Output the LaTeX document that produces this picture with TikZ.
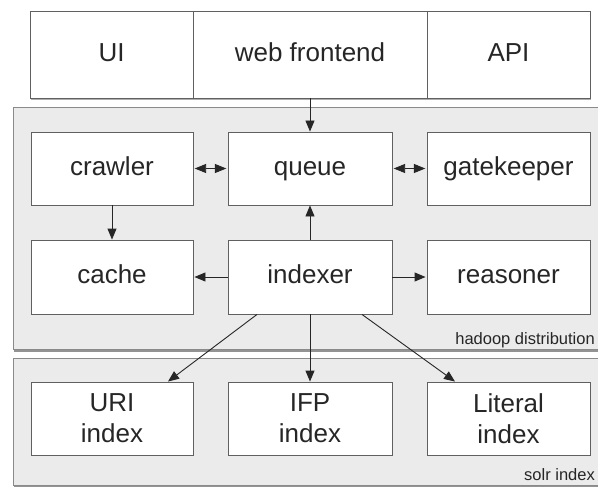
\documentclass[tikz,border=0pt]{standalone}
\usepackage{fontspec}
\setmainfont{Liberation Sans}
\usetikzlibrary{arrows.meta,calc,shadows}
\definecolor{panelfill}{HTML}{EBEBEB}
\definecolor{panelline}{HTML}{8A8A8A}
\definecolor{boxline}{HTML}{606060}
\definecolor{txt}{HTML}{262626}
\tikzset{
  box/.style={draw=boxline,line width=0.9pt,fill=white,inner sep=0pt,
    text=txt,font=\fontsize{26}{31}\selectfont,align=center,
    drop shadow={shadow xshift=0.6pt,shadow yshift=-1.2pt,fill=black!60,opacity=0.35}},
  oneline/.style={text height=19pt,text depth=5.5pt},
  topbox/.style={draw=boxline,line width=0.9pt,fill=white,inner sep=0pt,
    text=txt,font=\fontsize{26}{31}\selectfont,minimum height=87pt,text height=19pt,text depth=5.5pt},
  panel/.style={draw=panelline,line width=0.9pt,fill=panelfill,
    drop shadow={shadow xshift=0.8pt,shadow yshift=-2.2pt,fill=black!70,opacity=0.6}},
  paneltext/.style={text=txt,font=\fontsize{16.5}{18}\selectfont,inner sep=0pt,anchor=base east},
  conn/.style={draw=black!85,line width=0.9pt,-{Triangle[length=11pt,width=9pt]}},
  biconn/.style={draw=black!85,line width=0.9pt,{Triangle[length=11.5pt,width=9pt]}-{Triangle[length=11.5pt,width=9pt]},shorten <=1.2pt,shorten >=1.2pt}
}
\begin{document}
\begin{tikzpicture}[x=1pt,y=-1pt]
\useasboundingbox (0,0) rectangle (598,487);
\clip (0,0) rectangle (598,487);
\fill[white] (0,0) rectangle (598,487);
% panels
\node[panel,minimum width=600pt,minimum height=242pt,anchor=north west] (hadoop) at (13,107) {};
\node[panel,minimum width=600pt,minimum height=127pt,anchor=north west] (solr) at (13,358) {};
\node[paneltext] (hadooplbl) at (595,344) {hadoop distribution};
\node[paneltext] (solrlbl) at (595,480) {solr index};
% top bar
\begin{scope}[every node/.append style={drop shadow={shadow xshift=0.6pt,shadow yshift=-1.8pt,fill=black!70,opacity=0.45}}]
\node[topbox,minimum width=163pt] (ui) at (111.5,54.5) {UI};
\node[topbox,minimum width=234pt] (web) at (310,54.5) {web frontend};
\node[topbox,minimum width=163pt] (api) at (508.5,54.5) {API};
\end{scope}
% boxes
\node[box,oneline,minimum width=162pt,minimum height=73pt] (crawler) at (112,168.5) {crawler};
\node[box,oneline,minimum width=164pt,minimum height=73pt] (queue) at (310,168.5) {queue};
\node[box,oneline,minimum width=163pt,minimum height=73pt] (gate) at (508.5,168.5) {gatekeeper};
\node[box,oneline,minimum width=162pt,minimum height=74pt] (cache) at (112,277) {cache};
\node[box,oneline,minimum width=164pt,minimum height=74pt] (indexer) at (310,277) {indexer};
\node[box,oneline,minimum width=163pt,minimum height=74pt] (reasoner) at (508.5,277) {reasoner};
\node[box,minimum width=162pt,minimum height=73pt] (uri) at (112,418.5) {URI\\index};
\node[box,minimum width=164pt,minimum height=73pt] (ifp) at (310,418.5) {IFP\\index};
\node[box,minimum width=163pt,minimum height=73pt] (literal) at (508.5,418.5) {Literal\\index};
% connectors
\draw[conn] (web.south) -- (queue.north);
\draw[biconn] (crawler.east) -- (queue.west);
\draw[biconn] (queue.east) -- (gate.west);
\draw[conn] (crawler.south) -- (cache.north);
\draw[conn] (indexer.north) -- (queue.south);
\draw[conn,shorten >=1pt] (indexer.west) -- (cache.east);
\draw[conn,shorten >=1pt] (indexer.east) -- (reasoner.west);
\draw[conn] ($(indexer.south)+(-53,0)$) -- ($(uri.north)+(56,0)$);
\draw[conn] (indexer.south) -- (ifp.north);
\draw[conn] ($(indexer.south)+(52,0)$) -- ($(literal.north)+(-53.5,0)$);
\end{tikzpicture}
\end{document}
